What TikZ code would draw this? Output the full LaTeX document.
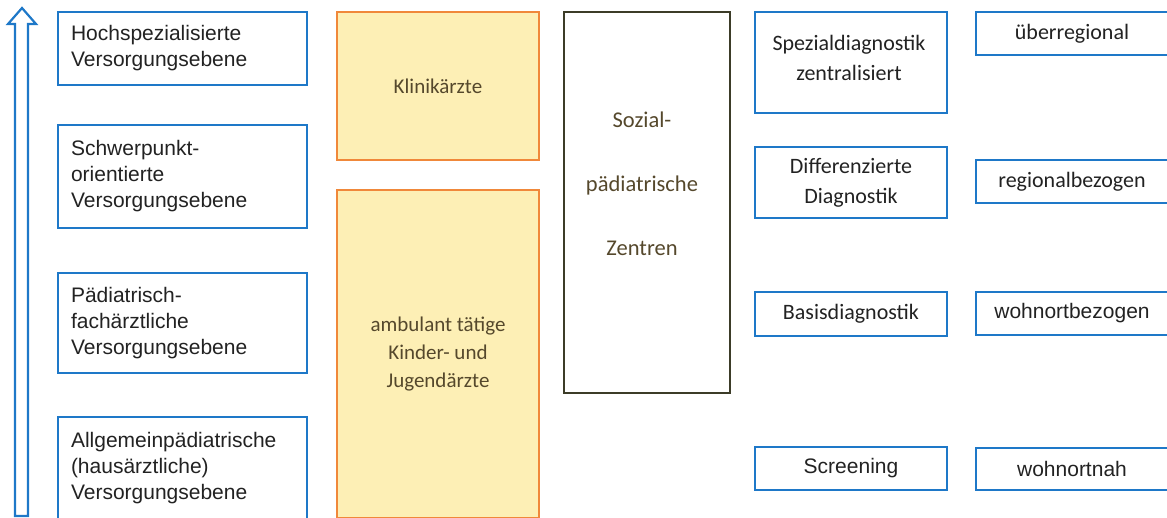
\documentclass[tikz,border=0pt]{standalone}
\usepackage{fontspec}
\setmainfont{Liberation Sans}
\newfontfamily\carlito{Carlito}
\definecolor{blueC}{HTML}{1E78C8}
\definecolor{orangeC}{HTML}{F0883A}
\definecolor{yellowC}{HTML}{FDEFB5}
\definecolor{oliveC}{HTML}{3C3C28}
\definecolor{textC}{HTML}{222222}
\definecolor{brownC}{HTML}{55482C}
\newcommand\fArial{\fontsize{21}{26}\selectfont}
\newcommand\fCal{\carlito\fontsize{22}{30}\selectfont}
\newcommand\fOr{\carlito\fontsize{21}{28}\selectfont}
\newcommand\fSoz{\carlito\fontsize{22.5}{64}\selectfont}
\begin{document}
\begin{tikzpicture}[x=1pt,y=-1pt,
  lbox/.style={draw=blueC, line width=2.2pt, minimum height=#1, text width=223pt,
    inner xsep=13pt, inner ysep=0pt, align=left, font=\fArial, text=textC},
  orbox/.style={draw=orangeC, fill=yellowC, line width=2.2pt, minimum width=202pt,
    minimum height=#1, inner sep=0pt, align=center, font=\fOr, text=brownC},
  sozbox/.style={draw=oliveC, line width=1.6pt, minimum width=166pt, minimum height=381pt, inner sep=0pt},
  soztext/.style={align=center, font=\fSoz, text=brownC, inner sep=0pt},
  rbox/.style={draw=blueC, line width=2.2pt, minimum width=192pt, minimum height=#1,
    inner sep=0pt, align=center, text=textC},
  cal/.style={font=\fCal},
  ari/.style={font=\fArial},
  arrowshape/.style={draw=blueC, line width=2.2pt, line join=miter, fill=white}
]
\useasboundingbox (0,0) rectangle (1167,517);

% hollow arrow
\coordinate (a1) at (15,516);
\coordinate (a2) at (15,24);
\coordinate (a3) at (8,24);
\coordinate (tip) at (22,8);
\coordinate (a5) at (36,24);
\coordinate (a6) at (28,24);
\coordinate (a7) at (28,516);
\draw[arrowshape] (a1) -- (a2) -- (a3) -- (tip) -- (a5) -- (a6) -- (a7) -- cycle;

% left column
\node[lbox=73pt] (l1) at (182.5,48.5) {Hochspezialisierte\\Versorgungsebene};
\node[lbox=103pt] (l2) at (182.5,176.5) {Schwerpunkt-\\orientierte\\Versorgungsebene};
\node[lbox=100pt] (l3) at (182.5,323) {Pädiatrisch-\\fachärztliche\\Versorgungsebene};
\node[lbox=102pt] (l4) at (182.5,468) {Allgemeinpädiatrische\\(hausärztliche)\\Versorgungsebene};

% orange column
\node[orbox=148pt] (kl) at (438,86) {Klinikärzte};
\node[orbox=328pt] (am) at (438,354) {ambulant tätige\\Kinder- und\\Jugendärzte};

% SPZ
\node[sozbox] (sz) at (647,202.5) {};
\node[soztext] (szt) at (642,184) {Sozial-\\pädiatrische\\Zentren};

% right column 1
\node[rbox=101pt, cal] (r1) at (851,62.5) {};
\node[cal, align=center, text=textC, inner sep=0pt] (r1t) at (849,58) {Spezialdiagnostik\\zentralisiert};
\node[rbox=71pt, cal] (r2) at (851,182.5) {Differenzierte\\Diagnostik};
\node[rbox=44pt, cal] (r3) at (851,314) {Basisdiagnostik};
\node[rbox=43pt, ari] (r4) at (851,468.5) {Screening};

% right column 2
\node[rbox=43pt, cal] (s1) at (1072,33.5) {überregional};
\node[rbox=43pt, cal] (s2) at (1072,181.5) {regionalbezogen};
\node[rbox=43pt, ari] (s3) at (1072,313.5) {wohnortbezogen};
\node[rbox=42pt, ari] (s4) at (1072,469) {wohnortnah};
\end{tikzpicture}
\end{document}
